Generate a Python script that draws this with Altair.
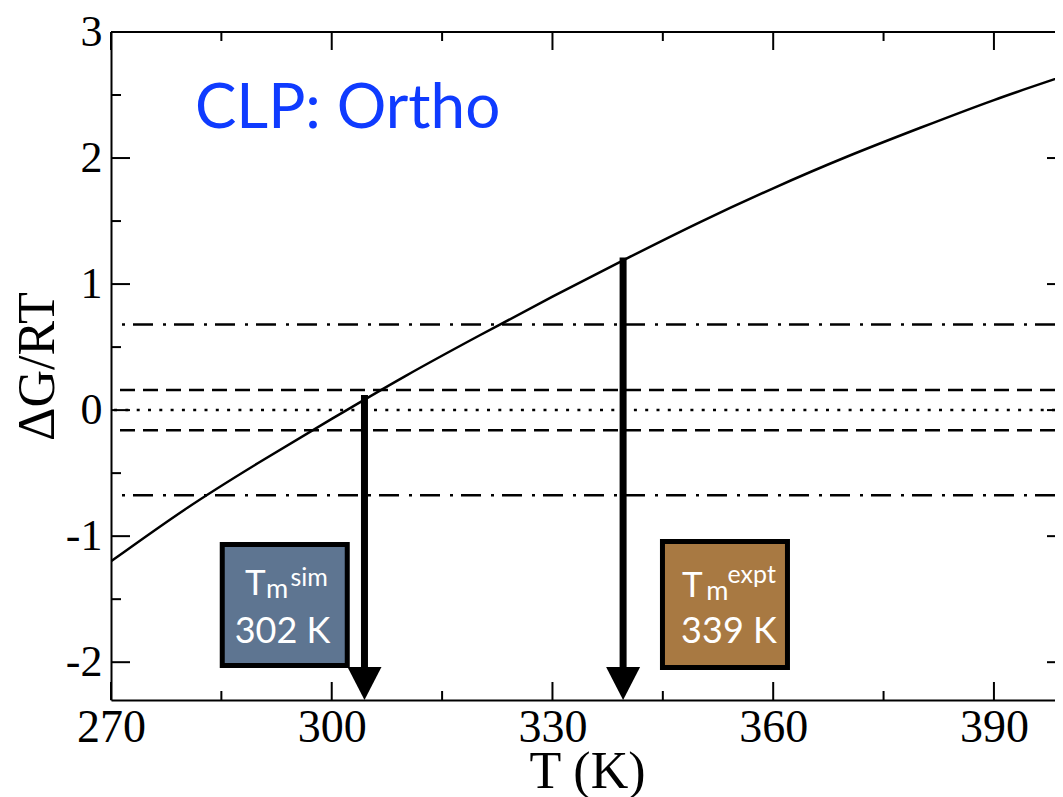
import altair as alt
import pandas as pd

# ---- data ----
temps = [270, 280, 290, 300, 310, 320, 330, 340, 350, 360, 370, 380, 390, 400]
dg_rt = [-1.20, -0.79, -0.42, -0.07, 0.27, 0.59, 0.90, 1.20, 1.49, 1.76, 2.01, 2.24, 2.46, 2.66]

dashdot_levels = [0.68, -0.675]
dashed_levels = [0.16, -0.16]
dotted_levels = [0.0]

arrow_T = [304.45, 339.6]
arrow_top = [0.12, 1.21]
arrow_shaft_end = [-2.1, -2.1]
arrow_tip = [-2.3, -2.3]

box_left = [285.12, 344.95]
box_right = [302.11, 361.94]
box_top = [-1.066, -1.0425]
box_bottom = [-2.026, -2.042]
box_fill = ["#5E7591", "#A87942"]

main_text = ["T", "T"]
main_T = [288.21, 347.60]
main_y = [-1.467, -1.483]
sub_text = ["m", "m"]
sub_T = [291.07, 350.9]
sub_y = [-1.491, -1.507]
sup_text = ["sim", "expt"]
sup_T = [294.4, 353.8]
sup_y = [-1.396, -1.372]
val_text = ["302 K", "339 K"]
val_T = [293.31, 353.99]
val_y = [-1.848, -1.848]

label_text = ["CLP: Ortho"]
label_T = [281.4]
label_y = [2.235]

x_major = [270, 300, 330, 360, 390]
x_minor = [285, 315, 345, 375]
y_major = [-2, -1, 0, 1, 2, 3]
y_minor = [-1.5, -0.5, 0.5, 1.5, 2.5]

W, H = 944, 668
xscale = alt.Scale(domain=[270, 398.3], nice=False, zero=False)
yscale = alt.Scale(domain=[-2.3, 3], nice=False, zero=False)

SERIF = "Liberation Serif"
SANS = "Lato"

AX_X = alt.Axis(
    values=x_major, ticks=False, tickSize=0, domain=True, domainColor="black",
    domainWidth=2, grid=False,
    labelFont=SERIF, labelFontSize=46, labelColor="black", labelPadding=41,
    labelBaseline="alphabetic", labelFlush=False, labelOverlap=False,
    title="T (K)", titleFont=SERIF, titleFontSize=52, titleFontWeight="normal",
    titleColor="black", titleBaseline="alphabetic", titleX=476, titleY=87,
    titleAlign="center")
AX_Y = alt.Axis(
    values=y_major, ticks=False, tickSize=0, domain=True, domainColor="black",
    domainWidth=2, grid=False,
    labelFont=SERIF, labelFontSize=44, labelColor="black", labelPadding=9,
    labelExpr="'' + datum.value", labelFlush=False, labelOverlap=False,
    title="ΔG/RT", titleFont=SERIF, titleFontSize=52, titleFontWeight="normal",
    titleColor="black", titleAngle=270, titleBaseline="alphabetic",
    titleX=-58, titleY=334, titleAlign="center")


def X(field="T"):
    return alt.X(f"{field}:Q", scale=xscale, axis=AX_X)


def Y(field="G"):
    return alt.Y(f"{field}:Q", scale=yscale, axis=AX_Y)


curve = alt.Chart(pd.DataFrame({"T": temps, "G": dg_rt})).mark_line(
    color="black", strokeWidth=2.5, clip=True, interpolate="natural"
).encode(x=X(), y=Y())


def hlines(levels, dash):
    return alt.Chart(pd.DataFrame({"G": levels})).mark_rule(
        color="black", strokeWidth=2.5, strokeDash=dash
    ).encode(y=Y())


ref_dashdot = hlines(dashdot_levels, [20, 8, 3, 10])
ref_dashed = hlines(dashed_levels, [15, 8])
ref_dotted = hlines(dotted_levels, [3, 8.3])

boxes = alt.Chart(pd.DataFrame({
    "T": box_left, "T2": box_right, "G": box_top, "G2": box_bottom, "fill": box_fill
})).mark_rect(stroke="black", strokeWidth=5).encode(
    x=X(), x2="T2:Q", y=Y(), y2="G2:Q", fill=alt.Fill("fill:N", scale=None)
)


def texts(txt, tv, gv, size, color="white", align="left"):
    return alt.Chart(pd.DataFrame({"T": tv, "G": gv, "txt": txt})).mark_text(
        font=SANS, fontSize=size, color=color, align=align, baseline="alphabetic"
    ).encode(x=X(), y=Y(), text="txt:N")


t_main = texts(main_text, main_T, main_y, 35)
t_sub = texts(sub_text, sub_T, sub_y, 27)
t_sup = texts(sup_text, sup_T, sup_y, 25)
t_val = texts(val_text, val_T, val_y, 36, align="center")
t_label = texts(label_text, label_T, label_y, 62, color="#0F3BFF")

shafts = alt.Chart(pd.DataFrame({"T": arrow_T, "G": arrow_top, "G2": arrow_shaft_end})).mark_rule(
    color="black", strokeWidth=7, strokeCap="butt"
).encode(x=X(), y=Y(), y2="G2:Q")

heads = alt.Chart(pd.DataFrame({"T": arrow_T, "G": arrow_tip})).mark_point(
    shape="M-1,-1.94L1,-1.94L0,0Z", size=1156, filled=True, color="black",
    opacity=1, strokeWidth=0
).encode(x=X(), y=Y())


def xticks(vals, y0, y1):
    return alt.Chart(pd.DataFrame({"T": vals})).mark_rule(
        color="black", strokeWidth=2
    ).encode(x=X(), y=alt.value(y0), y2=alt.value(y1))


def yticks(vals, x0, x1):
    return alt.Chart(pd.DataFrame({"G": vals})).mark_rule(
        color="black", strokeWidth=2
    ).encode(y=Y(), x=alt.value(x0), x2=alt.value(x1))


top_frame = alt.Chart(pd.DataFrame({"G": [3]})).mark_rule(
    color="black", strokeWidth=2
).encode(y=Y(), x=alt.value(0), x2=alt.value(W))

ticks = [
    xticks(x_major, H, H - 18), xticks(x_minor, H, H - 9),
    xticks(x_major, 0, 18), xticks(x_minor, 0, 9),
    yticks(y_major, 0, 19), yticks(y_minor, 0, 10),
    yticks(y_major, W, W - 8),
]

chart = alt.layer(
    ref_dashdot, ref_dashed, ref_dotted, curve, boxes,
    t_main, t_sub, t_sup, t_val, shafts, heads, top_frame, *ticks, t_label
).properties(
    width=W, height=H,
    padding={"left": 103, "top": 24, "right": 0, "bottom": 97},
    autosize=alt.AutoSizeParams(type="none"),
    background="white",
).configure_view(stroke="transparent", strokeWidth=0)

chart.save("out.html", embed_options={"renderer": "svg", "actions": False})
